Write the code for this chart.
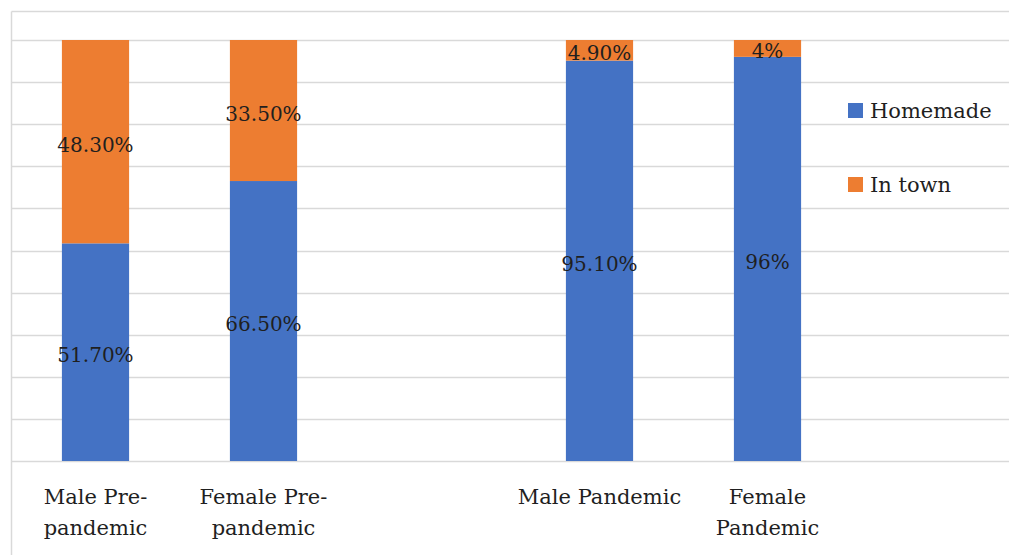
<!DOCTYPE html>
<html>
<head>
<meta charset="utf-8">
<script src="https://cdn.jsdelivr.net/npm/d3@7"></script>
<style>
  body { margin: 0; background: #fff; }
  svg text { font-family: "DejaVu Serif", "Liberation Serif", serif; fill: #1f1f1f; }
</style>
</head>
<body>
<div id="chart"></div>
<script>
// chart data, one empty slot between the two groups
var categories = ["Male Pre-|pandemic", "Female Pre-|pandemic", "", "Male Pandemic", "Female|Pandemic"];
var homemade = [51.7, 66.5, null, 95.1, 96];
var inTown = [48.3, 33.5, null, 4.9, 4];
var homemadeLabels = ["51.70%", "66.50%", "", "95.10%", "96%"];
var inTownLabels = ["48.30%", "33.50%", "", "4.90%", "4%"];
var seriesNames = ["Homemade", "In town"];
var seriesColors = ["#4472c4", "#ed7d31"];
var yTicks = [0, 10, 20, 30, 40, 50, 60, 70, 80, 90, 100];

var width = 1009,
  height = 555;

var svg = d3
  .select("#chart")
  .append("svg")
  .attr("width", width)
  .attr("height", height);

// outer frame (top + left edge visible)
svg.append("line")
  .attr("x1", 11.5).attr("x2", width).attr("y1", 11.5).attr("y2", 11.5)
  .attr("stroke", "#d9d9d9").attr("stroke-width", 1.5);
svg.append("line")
  .attr("x1", 11.5).attr("x2", 11.5).attr("y1", 11.5).attr("y2", height)
  .attr("stroke", "#d9d9d9").attr("stroke-width", 1.5);

var xScale = d3
  .scaleBand()
  .domain(d3.range(categories.length))
  .range([11.5, 851.5])
  .paddingInner(0.6)
  .paddingOuter(0.3);

var yScale = d3
  .scaleLinear()
  .domain([0, 100])
  .range([461, 40]);

// gridlines run across the whole width
svg.append("g")
  .selectAll("line")
  .data(yTicks)
  .enter()
  .append("line")
  .attr("x1", 11.5)
  .attr("x2", width)
  .attr("y1", function(d) { return Math.round(yScale(d)) + 0.5; })
  .attr("y2", function(d) { return Math.round(yScale(d)) + 0.5; })
  .attr("stroke", "#d9d9d9")
  .attr("stroke-width", 1.5);

var stacked = categories.map(function(c, i) {
  return { i: i, h: homemade[i], t: inTown[i] };
}).filter(function(d) { return d.h !== null; });

// homemade segment
svg.append("g")
  .selectAll("rect")
  .data(stacked)
  .enter()
  .append("rect")
  .attr("x", function(d) { return xScale(d.i); })
  .attr("width", xScale.bandwidth())
  .attr("y", function(d) { return yScale(d.h); })
  .attr("height", function(d) { return yScale(0) - yScale(d.h); })
  .attr("fill", seriesColors[0]);

// in town segment
svg.append("g")
  .selectAll("rect")
  .data(stacked)
  .enter()
  .append("rect")
  .attr("x", function(d) { return xScale(d.i); })
  .attr("width", xScale.bandwidth())
  .attr("y", function(d) { return yScale(d.h + d.t); })
  .attr("height", function(d) { return yScale(d.h) - yScale(d.h + d.t); })
  .attr("fill", seriesColors[1]);

// data labels
svg.append("g")
  .selectAll("text")
  .data(stacked)
  .enter()
  .append("text")
  .attr("x", function(d) { return xScale(d.i) + xScale.bandwidth() / 2; })
  .attr("y", function(d) { return (yScale(0) + yScale(d.h)) / 2 + 10; })
  .attr("text-anchor", "middle")
  .attr("font-size", 20)
  .text(function(d) { return homemadeLabels[d.i]; });

svg.append("g")
  .selectAll("text")
  .data(stacked)
  .enter()
  .append("text")
  .attr("x", function(d) { return xScale(d.i) + xScale.bandwidth() / 2; })
  .attr("y", function(d) { return (yScale(d.h) + yScale(d.h + d.t)) / 2 + 10; })
  .attr("text-anchor", "middle")
  .attr("font-size", 20)
  .text(function(d) { return inTownLabels[d.i]; });

// category labels, split in two lines where needed
var xLabels = svg.append("g")
  .selectAll("text")
  .data(categories)
  .enter()
  .append("text")
  .attr("text-anchor", "middle")
  .attr("font-size", 21)
  .attr("x", function(d, i) { return xScale(i) + xScale.bandwidth() / 2; })
  .attr("y", 504);

xLabels.selectAll("tspan")
  .data(function(d) { return d ? d.split("|") : []; })
  .enter()
  .append("tspan")
  .attr("x", function() { return this.parentNode.getAttribute("x"); })
  .attr("dy", function(d, j) { return j === 0 ? 0 : 31; })
  .text(function(d) { return d; });

// legend
var legend = svg.append("g")
  .selectAll("g")
  .data(seriesNames)
  .enter()
  .append("g")
  .attr("transform", function(d, i) { return "translate(848," + (103 + i * 74) + ")"; });

legend.append("rect")
  .attr("width", 15)
  .attr("height", 15)
  .attr("fill", function(d, i) { return seriesColors[i]; });

legend.append("text")
  .attr("x", 22)
  .attr("y", 15)
  .attr("font-size", 21)
  .text(function(d) { return d; });
</script>
</body>
</html>
